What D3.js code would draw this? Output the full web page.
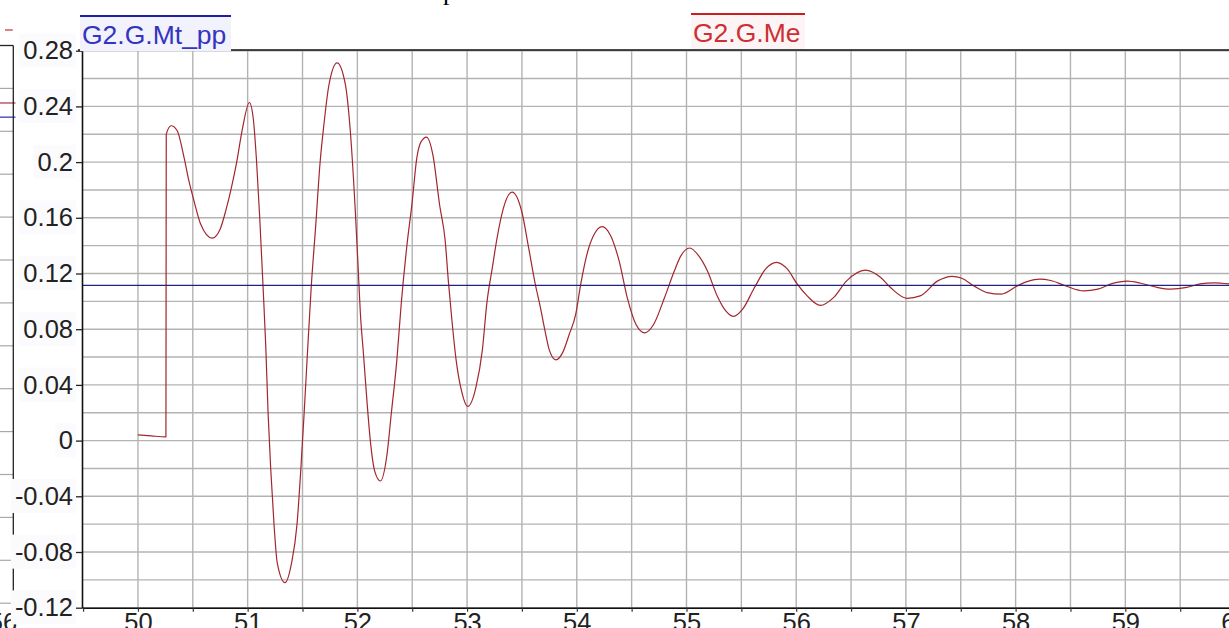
<!DOCTYPE html>
<html>
<head>
<meta charset="utf-8">
<script src="https://cdn.jsdelivr.net/npm/d3@7"></script>
<style>
  html, body { margin: 0; padding: 0; background: #fff; overflow: hidden; }
  svg { display: block; font-family: "Liberation Sans", Arial, sans-serif; }
</style>
</head>
<body>
<svg id="chart" width="1229" height="628"></svg>
<script>
// ---- data -------------------------------------------------------------
// time axis (s) of the electrical torque trace
const timeS = [
  50.000, 50.120, 50.255, 50.258, 50.303, 50.358, 50.420, 50.464, 50.510, 50.570,
  50.677, 50.750, 50.800, 50.850, 50.900, 50.950, 51.016, 51.050, 51.080, 51.110,
  51.140, 51.165, 51.186, 51.210, 51.240, 51.270, 51.340, 51.400, 51.450, 51.485,
  51.515, 51.545, 51.580, 51.620, 51.660, 51.695, 51.740, 51.815, 51.890, 51.936,
  51.980, 52.006, 52.027, 52.057, 52.088, 52.118, 52.160, 52.210, 52.270, 52.310,
  52.360, 52.400, 52.450, 52.500, 52.540, 52.580, 52.630, 52.690, 52.750, 52.800,
  52.830, 52.860, 52.900, 52.950, 53.006, 53.080, 53.140, 53.180, 53.230, 53.270,
  53.330, 53.410, 53.500, 53.560, 53.620, 53.670, 53.710, 53.750, 53.810, 53.870,
  53.930, 53.990, 54.036, 54.100, 54.160, 54.230, 54.310, 54.386, 54.460, 54.540,
  54.620, 54.700, 54.800, 54.890, 54.950, 55.030, 55.110, 55.190, 55.280, 55.360,
  55.430, 55.510, 55.620, 55.720, 55.820, 55.920, 56.010, 56.100, 56.220, 56.340,
  56.460, 56.630, 56.770, 56.860, 57.010, 57.130, 57.290, 57.420, 57.510, 57.620,
  57.740, 57.870, 58.020, 58.110, 58.220, 58.320, 58.460, 58.620, 58.750, 58.870,
  59.020, 59.140, 59.290, 59.410, 59.560, 59.680, 59.810, 59.945
];
// G2.G.Me (p.u.)
const meValues = [
  0.0041, 0.0034, 0.0027, 0.2200, 0.2261, 0.2225, 0.2034, 0.1867, 0.1724, 0.1557,
  0.1454, 0.1520, 0.1650, 0.1810, 0.2000, 0.2230, 0.2428, 0.2320, 0.2020, 0.1600,
  0.1110, 0.0680, 0.0200, -0.0200, -0.0600, -0.0880, -0.1020, -0.0880, -0.0600, -0.0200,
  0.0200, 0.0630, 0.1110, 0.1540, 0.1995, 0.2270, 0.2550, 0.2713, 0.2560, 0.2220,
  0.1666, 0.1260, 0.0920, 0.0608, 0.0278, 0.0000, -0.0225, -0.0290, -0.0100, 0.0200,
  0.0580, 0.0985, 0.1390, 0.1716, 0.2020, 0.2145, 0.2180, 0.2045, 0.1690, 0.1440,
  0.1140, 0.0880, 0.0580, 0.0355, 0.0245, 0.0380, 0.0655, 0.0985, 0.1240, 0.1440,
  0.1666, 0.1785, 0.1640, 0.1390, 0.1130, 0.0950, 0.0790, 0.0650, 0.0580, 0.0630,
  0.0760, 0.0906, 0.1123, 0.1360, 0.1484, 0.1537, 0.1470, 0.1290, 0.1027, 0.0834,
  0.0774, 0.0834, 0.1027, 0.1220, 0.1328, 0.1383, 0.1328, 0.1220, 0.1039, 0.0930,
  0.0892, 0.0942, 0.1099, 0.1231, 0.1280, 0.1231, 0.1123, 0.1039, 0.0971, 0.1027,
  0.1147, 0.1224, 0.1171, 0.1099, 0.1022, 0.1039, 0.1147, 0.1180, 0.1166, 0.1111,
  0.1063, 0.1052, 0.1113, 0.1143, 0.1160, 0.1150, 0.1110, 0.1075, 0.1088, 0.1125,
  0.1145, 0.1130, 0.1100, 0.1088, 0.1100, 0.1125, 0.1133, 0.1125
];
// G2.G.Mt_pp (p.u.) — constant mechanical torque
const mtTime = [49.49, 59.945];
const mtValues = [0.1115, 0.1115];

const seriesNames = ["G2.G.Mt_pp", "G2.G.Me"];

const yTickValues = [-0.12, -0.08, -0.04, 0, 0.04, 0.08, 0.12, 0.16, 0.2, 0.24, 0.28];
const yTickLabels = ["-0.12", "-0.08", "-0.04", "0", "0.04", "0.08", "0.12", "0.16", "0.2", "0.24", "0.28"];
const xTickValues = [50, 51, 52, 53, 54, 55, 56, 57, 58, 59, 60];
const xTickLabels = ["50", "51", "52", "53", "54", "55", "56", "57", "58", "59", "60"];

// neighbouring panel on the left edge
const sideGridValues = [0.1, 0, -0.1, -0.2, -0.3, -0.4, -0.5, -0.6, -0.7, -0.8, -0.9, -1.0, -1.1];
const sideSeriesValues = [0.066, 0.033];
const sideTickValues = [56];
const sideTickLabels = ["56"];

// ---- layout -----------------------------------------------------------
const svg = d3.select("#chart");
const plot = { left: 82, right: 1229, top: 50.7, bottom: 607.7 };
const FONT = 25.5;
const meColor = "#a3262e";
const mtColor = "#23237a";
const gridColor = "#b3b3b3";

const x = d3.scaleLinear().domain([49.49, 59.945]).range([plot.left, plot.right]);
const y = d3.scaleLinear().domain([-0.12, 0.28]).range([plot.bottom, plot.top]);

// caption fragment above the panels
svg.append("text")
  .attr("x", 443).attr("y", 0)
  .attr("font-family", "'Liberation Serif', 'Times New Roman', serif")
  .attr("font-size", 26).attr("fill", "#000")
  .text("p");

// ---- left neighbouring panel ------------------------------------------
const sideRight = 13.3;
const sideX = d3.scaleLinear().domain([46, 56.094]).range([sideRight - 10.094 * 109.7, sideRight]);
const sideY = d3.scaleLinear().domain([-1.1, 0.2]).range([603.2, 45.5]);
const side = svg.append("g");
side.selectAll("line.sg").data(sideGridValues).join("line")
  .attr("x1", 0).attr("x2", sideRight)
  .attr("y1", d => sideY(d)).attr("y2", d => sideY(d))
  .attr("stroke", "#a9a9a9").attr("stroke-width", 1.2);
side.selectAll("line.ss").data(sideSeriesValues).join("line")
  .attr("x1", 0).attr("x2", 15.5)
  .attr("y1", d => sideY(d)).attr("y2", d => sideY(d))
  .attr("stroke", (d, i) => i === 0 ? "#b0303a" : "#2a2ab0").attr("stroke-width", 1.2);
side.append("line")
  .attr("x1", 0).attr("x2", sideRight).attr("y1", sideY(0.2)).attr("y2", sideY(0.2))
  .attr("stroke", "#222").attr("stroke-width", 1.3);
side.append("line")
  .attr("x1", sideRight).attr("x2", sideRight).attr("y1", sideY(0.2)).attr("y2", sideY(-1.1))
  .attr("stroke", "#222").attr("stroke-width", 1.3);
side.append("line")
  .attr("x1", 5).attr("x2", 12.7).attr("y1", 30).attr("y2", 30)
  .attr("stroke", "#c03030").attr("stroke-width", 1.2);
side.selectAll("text").data(sideTickValues).join("text")
  .attr("x", d => sideX(d)).attr("y", 630.5)
  .attr("text-anchor", "middle").attr("font-size", FONT).attr("fill", "#222")
  .text((d, i) => sideTickLabels[i]);

// ---- grid --------------------------------------------------------------
const grid = svg.append("g");
grid.selectAll("line.v").data(x.ticks(20).filter(d => x(d) > plot.left + 2)).join("line")
  .attr("x1", d => x(d)).attr("x2", d => x(d))
  .attr("y1", plot.top).attr("y2", plot.bottom)
  .attr("stroke", gridColor).attr("stroke-width", 1.4);
grid.selectAll("line.h").data(y.ticks(20)).join("line")
  .attr("x1", plot.left).attr("x2", plot.right)
  .attr("y1", d => y(d)).attr("y2", d => y(d))
  .attr("stroke", gridColor).attr("stroke-width", 1.4);

// ---- series ------------------------------------------------------------
svg.append("clipPath").attr("id", "plotClip")
  .append("rect")
  .attr("x", plot.left).attr("y", plot.top)
  .attr("width", plot.right - plot.left).attr("height", plot.bottom - plot.top);

const meData = timeS.map((t, i) => [t, meValues[i]]);
const mtData = mtTime.map((t, i) => [t, mtValues[i]]);

svg.append("path")
  .attr("clip-path", "url(#plotClip)")
  .attr("d", d3.line().x(d => x(d[0])).y(d => y(d[1])).curve(d3.curveMonotoneX)(meData))
  .attr("fill", "none").attr("stroke", meColor).attr("stroke-width", 1.2)
  .attr("stroke-linejoin", "round");

svg.append("path")
  .attr("clip-path", "url(#plotClip)")
  .attr("d", d3.line().x(d => x(d[0])).y(d => y(d[1]))(mtData))
  .attr("fill", "none").attr("stroke", mtColor).attr("stroke-width", 1.3);

// ---- axes --------------------------------------------------------------
const yAxis = svg.append("g")
  .attr("transform", `translate(${plot.left},0)`)
  .call(d3.axisLeft(y).tickValues(yTickValues).tickFormat((d, i) => yTickLabels[i])
    .tickSize(6).tickSizeOuter(0).tickPadding(3));
yAxis.select(".domain").attr("stroke", "#111").attr("stroke-width", 1.6);
yAxis.selectAll(".tick line").attr("stroke", "#222").attr("stroke-width", 1.3);
yAxis.selectAll(".tick text")
  .attr("font-size", FONT).attr("fill", "#222")
  .attr("font-family", "'Liberation Sans', Arial, sans-serif");
// faint label boxes behind the value labels
yAxis.selectAll(".tick").each(function () {
  const t = d3.select(this).select("text");
  const b = t.node().getBBox();
  d3.select(this).insert("rect", "text")
    .attr("x", b.x - 4).attr("y", b.y - 3)
    .attr("width", b.width + 7).attr("height", b.height + 6)
    .attr("fill", "#fbfbfd");
});

const xMinor = svg.append("g")
  .attr("transform", `translate(0,${plot.bottom})`)
  .call(d3.axisBottom(x).tickValues(x.ticks(20)).tickSize(4).tickSizeOuter(0).tickFormat(""));
xMinor.select(".domain").attr("stroke", "#111").attr("stroke-width", 1.6);
xMinor.selectAll(".tick line").attr("stroke", "#333").attr("stroke-width", 1.2);

const xAxis = svg.append("g")
  .attr("transform", `translate(0,${plot.bottom})`)
  .call(d3.axisBottom(x).tickValues(xTickValues).tickFormat((d, i) => xTickLabels[i])
    .tickSize(0).tickPadding(5));
xAxis.select(".domain").remove();
xAxis.selectAll(".tick text")
  .attr("font-size", FONT).attr("fill", "#222")
  .attr("font-family", "'Liberation Sans', Arial, sans-serif");

// top border of the plot area
svg.append("line")
  .attr("x1", 78).attr("x2", plot.right)
  .attr("y1", 50).attr("y2", 50)
  .attr("stroke", "#111").attr("stroke-width", 1.5);

// ---- legend ------------------------------------------------------------
const legendItems = [
  { name: seriesNames[0], x: 82, baseline: 44, line: 16, x1: 80, x2: 231, color: "#3434bf", lineColor: "#1f1fa0", bg: "#f1f2fb" },
  { name: seriesNames[1], x: 693, baseline: 42, line: 14, x1: 691, x2: 805, color: "#cf2f33", lineColor: "#c81f22", bg: "#fdf5f5" }
];
const legend = svg.append("g");
legendItems.forEach(it => {
  const g = legend.append("g");
  const bg = g.append("rect");
  const t = g.append("text")
    .attr("x", it.x).attr("y", it.baseline)
    .attr("font-size", 26.5).attr("fill", it.color)
    .text(it.name);
  const b = t.node().getBBox();
  bg.attr("x", it.x1).attr("y", it.line + 1)
    .attr("width", it.x2 - it.x1).attr("height", b.y + b.height - it.line)
    .attr("fill", it.bg);
  g.append("line")
    .attr("x1", it.x1).attr("x2", it.x2).attr("y1", it.line).attr("y2", it.line)
    .attr("stroke", it.lineColor).attr("stroke-width", 2);
});
</script>
</body>
</html>
